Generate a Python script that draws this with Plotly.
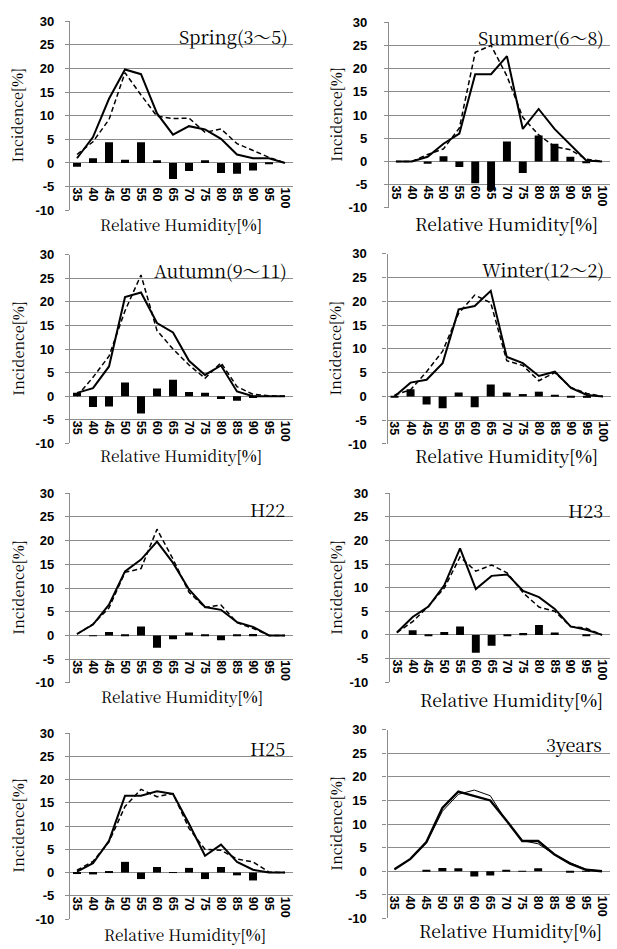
import plotly.graph_objects as go

# Relative humidity classes (%)
humidity = ["35", "40", "45", "50", "55", "60", "65", "70", "75", "80", "85", "90", "95", "100"]
y_ticks = [-10, -5, 0, 5, 10, 15, 20, 25, 30]

panel_titles = ["Spring(3～5)", "Summer(6～8)", "Autumn(9～11)", "Winter(12～2)",
                "H22", "H23", "H25", "3years"]

# Incidence [%] per humidity class: observed (solid), reference (dashed), difference (bars)
spring_solid = [1.0, 5.5, 13.6, 19.8, 18.8, 10.5, 6.0, 7.8, 7.1, 5.1, 1.8, 1.0, 1.0, 0.0]
spring_dashed = [1.8, 4.5, 9.2, 19.1, 14.4, 9.9, 9.4, 9.5, 6.5, 7.2, 4.1, 2.6, 1.2, 0.0]
spring_diff = [-0.8, 1.0, 4.4, 0.7, 4.4, 0.6, -3.4, -1.7, 0.6, -2.1, -2.3, -1.6, -0.2, 0.0]

summer_solid = [0.0, 0.0, 1.0, 3.8, 6.0, 18.8, 18.8, 22.7, 7.0, 11.3, 7.0, 3.5, 0.2, 0.0]
summer_dashed = [0.0, 0.0, 1.5, 2.7, 7.2, 23.5, 25.0, 18.4, 9.5, 5.7, 3.2, 2.5, 0.5, 0.0]
summer_diff = [0.0, 0.0, -0.5, 1.1, -1.2, -4.7, -6.2, 4.3, -2.5, 5.6, 3.8, 1.0, -0.3, 0.0]

autumn_solid = [0.7, 1.7, 6.3, 21.0, 22.0, 15.5, 13.5, 7.5, 4.5, 6.5, 1.0, 0.0, 0.0, 0.0]
autumn_dashed = [0.0, 4.0, 8.5, 18.1, 25.7, 13.9, 10.0, 6.6, 3.8, 7.1, 2.0, 0.4, 0.1, 0.0]
autumn_diff = [0.7, -2.3, -2.2, 2.9, -3.7, 1.6, 3.5, 0.9, 0.7, -0.6, -1.0, -0.4, 0.0, 0.0]

winter_solid = [0.0, 2.9, 3.5, 7.0, 18.3, 19.0, 22.2, 8.3, 7.0, 4.3, 5.2, 1.8, 0.3, 0.0]
winter_dashed = [0.3, 1.4, 5.2, 9.5, 17.5, 21.3, 19.7, 7.5, 6.5, 3.3, 5.0, 1.9, 0.6, 0.0]
winter_diff = [-0.3, 1.5, -1.7, -2.5, 0.8, -2.3, 2.5, 0.8, 0.5, 1.0, 0.2, -0.1, -0.3, 0.0]

h22_solid = [0.3, 2.3, 6.5, 13.5, 16.0, 19.8, 15.3, 9.7, 6.0, 5.4, 2.8, 1.8, 0.0, 0.0]
h22_dashed = [0.3, 2.4, 5.8, 13.3, 14.1, 22.4, 16.1, 9.1, 5.9, 6.4, 2.7, 1.5, 0.0, 0.0]
h22_diff = [0.0, -0.1, 0.7, 0.2, 1.9, -2.6, -0.8, 0.6, 0.1, -1.0, 0.1, 0.3, 0.0, 0.0]

h23_solid = [0.5, 3.8, 6.0, 10.5, 18.3, 9.7, 12.5, 12.8, 9.3, 8.0, 5.5, 1.8, 1.1, 0.0]
h23_dashed = [0.5, 2.8, 6.1, 9.9, 16.5, 13.5, 14.8, 13.1, 8.9, 5.9, 5.0, 1.8, 1.4, 0.0]
h23_diff = [0.0, 1.0, -0.1, 0.6, 1.8, -3.8, -2.3, -0.3, 0.4, 2.1, 0.5, 0.0, -0.3, 0.0]

h25_solid = [0.2, 2.0, 6.8, 16.5, 16.5, 17.5, 16.9, 10.5, 3.6, 6.0, 2.3, 0.6, 0.0, 0.0]
h25_dashed = [0.5, 2.4, 6.6, 14.2, 17.9, 16.3, 17.0, 9.5, 5.0, 4.8, 2.9, 2.3, 0.1, 0.0]
h25_diff = [-0.3, -0.4, 0.2, 2.3, -1.4, 1.2, -0.1, 1.0, -1.4, 1.2, -0.6, -1.7, -0.1, 0.0]

years3_solid = [0.4, 2.6, 6.2, 13.4, 16.9, 16.0, 15.0, 10.8, 6.4, 6.4, 3.6, 1.6, 0.3, 0.0]
years3_thin = [0.4, 2.6, 6.0, 12.7, 16.3, 17.2, 16.0, 10.7, 6.5, 5.8, 3.6, 1.8, 0.4, 0.0]
years3_diff = [0.0, 0.0, 0.2, 0.7, 0.6, -1.1, -0.9, 0.2, -0.1, 0.6, 0.0, -0.2, -0.1, 0.0]

series = [
    (spring_solid, spring_dashed, spring_diff),
    (summer_solid, summer_dashed, summer_diff),
    (autumn_solid, autumn_dashed, autumn_diff),
    (winter_solid, winter_dashed, winter_diff),
    (h22_solid, h22_dashed, h22_diff),
    (h23_solid, h23_dashed, h23_diff),
    (h25_solid, h25_dashed, h25_diff),
    (years3_solid, years3_thin, years3_diff),
]

W, H = 617, 949

# Plot areas in pixels: left, right, top (y=30), bottom (y=-10)
boxes = [
    (69, 293, 14.5, 206.5), (388, 610, 15.5, 204),
    (69, 293, 251.7, 443.3), (386.5, 611, 250.7, 444),
    (69, 293, 494, 686.7), (389, 610, 494, 686),
    (69, 293, 737.7, 926.7), (386.5, 610, 734.3, 926),
]
# Panel label anchor: right edge x, centre y (pixels)
title_pos = [(290, 29), (606, 30.7), (289, 267), (606, 266.7),
             (286.7, 510), (604.7, 510.7), (286.7, 753.3), (604, 749.3)]
# x-axis title centre (pixels)
xtitle_pos = [(181, 220), (506, 220), (181, 455), (506.7, 455.7),
              (181.7, 700), (511, 703.3), (185, 942.3), (510.5, 938.3)]
ytitle_x = [16.7, 334.7, 16.7, 334.7, 16.7, 336, 16.7, 334.7]
ylabel_standoff = [8, 14, 8, 13, 8, 14, 8, 13]

GRID = "#8c8c8c"
SERIF = "Noto Serif CJK JP"
SANS = "Liberation Sans"
YMIN, YMAX = -10, 30

fig = go.Figure()
annotations = []


def px_x(v):
    return v / W


def px_y(v):
    return 1 - v / H


for i, ((solid, dashed, diff), (l, r, t, b)) in enumerate(zip(series, boxes)):
    n = i + 1
    sfx = "" if n == 1 else str(n)
    xa, ya = "x" + sfx, "y" + sfx
    is_total = i == 7

    fig.add_trace(go.Bar(x=humidity, y=diff, width=0.5,
                         marker=dict(color="black", line=dict(width=0)),
                         xaxis=xa, yaxis=ya, showlegend=False))
    if is_total:
        fig.add_trace(go.Scatter(x=humidity, y=dashed, mode="lines",
                                 line=dict(color="black", width=1),
                                 xaxis=xa, yaxis=ya, showlegend=False))
        fig.add_trace(go.Scatter(x=humidity, y=solid, mode="lines",
                                 line=dict(color="black", width=2.4),
                                 xaxis=xa, yaxis=ya, showlegend=False))
    else:
        fig.add_trace(go.Scatter(x=humidity, y=dashed, mode="lines",
                                 line=dict(color="black", width=1.5, dash="5px,3px"),
                                 xaxis=xa, yaxis=ya, showlegend=False))
        fig.add_trace(go.Scatter(x=humidity, y=solid, mode="lines",
                                 line=dict(color="black", width=2),
                                 xaxis=xa, yaxis=ya, showlegend=False))

    y0, y1 = px_y(b), px_y(t)
    xpos = y0 + (-5 - YMIN) / (YMAX - YMIN) * (y1 - y0)

    fig.layout["xaxis" + sfx] = dict(
        domain=[px_x(l), px_x(r)], anchor="free", position=xpos,
        type="category", range=[-0.5, 13.5], showgrid=False, zeroline=False,
        showline=False, ticks="", tickangle=90, ticklabelstandoff=0,
        tickvals=humidity, ticktext=[f"<b>{h}</b>" for h in humidity],
        tickfont=dict(family=SANS, size=12.5, color="black"),
        fixedrange=True,
    )
    fig.layout["yaxis" + sfx] = dict(
        domain=[y0, y1], anchor="free", position=px_x(l),
        range=[YMIN, YMAX], tickvals=y_ticks, ticktext=[f"<b>{v}</b>" for v in y_ticks],
        showgrid=True, gridcolor=GRID, gridwidth=1.3, zeroline=False,
        showline=True, linecolor=GRID, linewidth=1.3,
        ticks="outside", ticklen=4, tickcolor=GRID, tickwidth=1.3,
        ticklabelstandoff=ylabel_standoff[i],
        tickfont=dict(family=SANS, size=13, color="black"),
        fixedrange=True,
    )

    tx, ty = title_pos[i]
    annotations.append(dict(text=panel_titles[i], x=px_x(tx), y=px_y(ty),
                            xref="paper", yref="paper",
                            xanchor="right", yanchor="middle", showarrow=False,
                            font=dict(family=SERIF, size=18, color="black")))
    xx, xy = xtitle_pos[i]
    annotations.append(dict(text="Relative Humidity[<b>%</b>]",
                            x=px_x(xx), y=px_y(xy), xref="paper", yref="paper",
                            xanchor="center", yanchor="middle", showarrow=False,
                            font=dict(family=SERIF, size=15.5 if i % 2 == 0 else 17.5,
                                      color="black")))
    annotations.append(dict(text="Incidence[<b>%</b>]",
                            x=px_x(ytitle_x[i]), y=px_y((t + b) / 2),
                            xref="paper", yref="paper",
                            xanchor="center", yanchor="middle", showarrow=False,
                            textangle=-90,
                            font=dict(family=SERIF, size=14.5, color="black")))

fig.update_layout(
    width=W, height=H, margin=dict(l=0, r=0, t=0, b=0),
    paper_bgcolor="white", plot_bgcolor="white",
    annotations=annotations, showlegend=False,
)

fig.write_html("out.html")
